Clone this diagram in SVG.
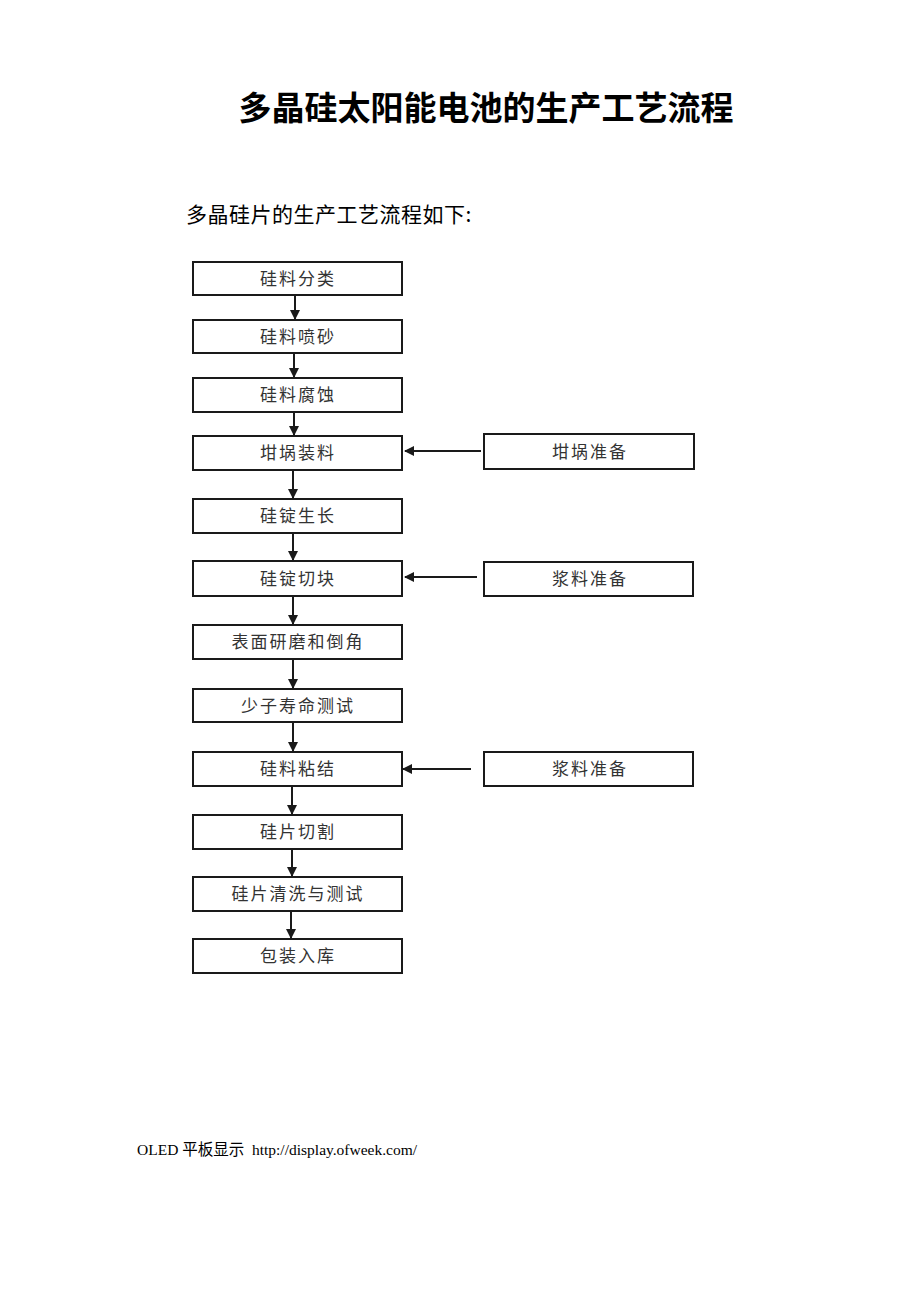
<svg xmlns="http://www.w3.org/2000/svg" width="920" height="1302" viewBox="0 0 920 1302">
<style>
.box{fill:#fff;stroke:#1a1a1a;stroke-width:2}
.lbl{font-family:"Noto Sans CJK SC","Liberation Sans",sans-serif;font-size:17px;fill:#333;text-anchor:middle;letter-spacing:2px}
.ln{stroke:#1a1a1a;stroke-width:2;fill:none}
</style>
<defs>
<marker id="ah" markerWidth="10" markerHeight="10" refX="9" refY="5" orient="auto" markerUnits="userSpaceOnUse">
<path d="M0,0 L10,5 L0,10 z" fill="#1a1a1a"/>
</marker>
</defs>
<rect width="920" height="1302" fill="#fff"/>
<text x="486" y="120" font-family="Noto Sans CJK SC,Liberation Sans,sans-serif" font-size="33" font-weight="bold" text-anchor="middle" fill="#000">多晶硅太阳能电池的生产工艺流程</text>
<text x="186" y="222" font-family="Noto Sans CJK SC,Liberation Sans,sans-serif" font-size="21" letter-spacing="0.5" fill="#000">多晶硅片的生产工艺流程如下:</text>

<g id="n1"><rect class="box" x="193" y="262" width="209" height="33"/><text class="lbl" x="298" y="285">硅料分类</text></g>
<g id="n2"><rect class="box" x="193" y="320" width="209" height="33"/><text class="lbl" x="298" y="343">硅料喷砂</text></g>
<g id="n3"><rect class="box" x="193" y="378" width="209" height="34"/><text class="lbl" x="298" y="401">硅料腐蚀</text></g>
<g id="n4"><rect class="box" x="193" y="436" width="209" height="34"/><text class="lbl" x="298" y="459">坩埚装料</text></g>
<g id="n5"><rect class="box" x="193" y="499" width="209" height="34"/><text class="lbl" x="298" y="522">硅锭生长</text></g>
<g id="n6"><rect class="box" x="193" y="561" width="209" height="35"/><text class="lbl" x="298" y="585">硅锭切块</text></g>
<g id="n7"><rect class="box" x="193" y="625" width="209" height="34"/><text class="lbl" x="298" y="648">表面研磨和倒角</text></g>
<g id="n8"><rect class="box" x="193" y="689" width="209" height="33"/><text class="lbl" x="298" y="712">少子寿命测试</text></g>
<g id="n9"><rect class="box" x="193" y="752" width="209" height="34"/><text class="lbl" x="298" y="775">硅料粘结</text></g>
<g id="n10"><rect class="box" x="193" y="815" width="209" height="34"/><text class="lbl" x="298" y="838">硅片切割</text></g>
<g id="n11"><rect class="box" x="193" y="877" width="209" height="34"/><text class="lbl" x="298" y="900">硅片清洗与测试</text></g>
<g id="n12"><rect class="box" x="193" y="939" width="209" height="34"/><text class="lbl" x="298" y="962">包装入库</text></g>

<g id="r1"><rect class="box" x="484" y="434" width="210" height="35"/><text class="lbl" x="590" y="458">坩埚准备</text></g>
<g id="r2"><rect class="box" x="484" y="562" width="209" height="34"/><text class="lbl" x="590" y="585">浆料准备</text></g>
<g id="r3"><rect class="box" x="484" y="752" width="209" height="34"/><text class="lbl" x="590" y="775">浆料准备</text></g>

<g id="connectors">
<line class="ln" x1="295" y1="296" x2="295" y2="319" marker-end="url(#ah)"/>
<line class="ln" x1="294" y1="354" x2="294" y2="377" marker-end="url(#ah)"/>
<line class="ln" x1="294" y1="413" x2="294" y2="435" marker-end="url(#ah)"/>
<line class="ln" x1="293" y1="471" x2="293" y2="498" marker-end="url(#ah)"/>
<line class="ln" x1="293" y1="534" x2="293" y2="560" marker-end="url(#ah)"/>
<line class="ln" x1="293" y1="597" x2="293" y2="624" marker-end="url(#ah)"/>
<line class="ln" x1="293" y1="660" x2="293" y2="688" marker-end="url(#ah)"/>
<line class="ln" x1="293" y1="723" x2="293" y2="751" marker-end="url(#ah)"/>
<line class="ln" x1="292" y1="787" x2="292" y2="814" marker-end="url(#ah)"/>
<line class="ln" x1="292" y1="850" x2="292" y2="876" marker-end="url(#ah)"/>
<line class="ln" x1="291" y1="912" x2="291" y2="938" marker-end="url(#ah)"/>
<line class="ln" x1="481" y1="451" x2="405" y2="451" marker-end="url(#ah)"/>
<line class="ln" x1="477" y1="577" x2="405" y2="577" marker-end="url(#ah)"/>
<line class="ln" x1="471" y1="769" x2="403" y2="769" marker-end="url(#ah)"/>
</g>

<text x="137" y="1155" xml:space="preserve" font-family="Liberation Serif,Noto Sans CJK SC,serif" font-size="15.5" fill="#000">OLED 平板显示  http://display.ofweek.com/</text>
</svg>
